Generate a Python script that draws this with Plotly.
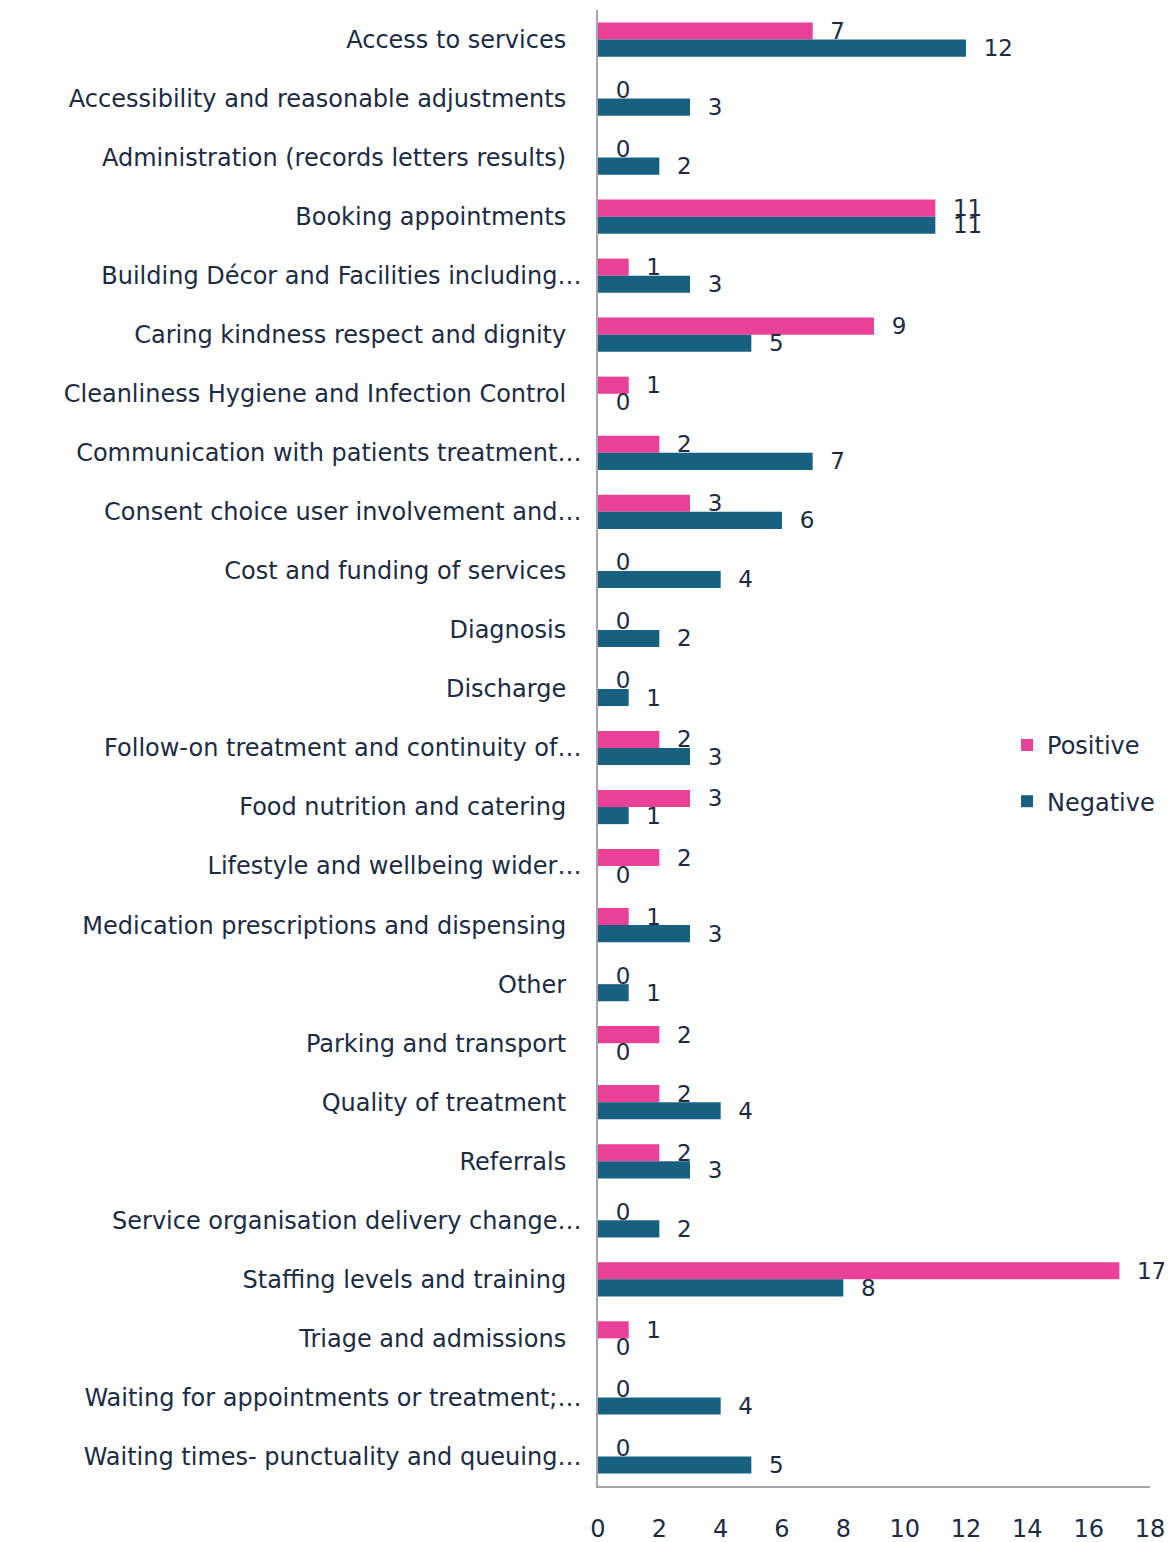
import plotly.graph_objects as go

categories = [
    "Access to services",
    "Accessibility and reasonable adjustments",
    "Administration (records letters results)",
    "Booking appointments",
    "Building Décor and Facilities including…",
    "Caring kindness respect and dignity",
    "Cleanliness Hygiene and Infection Control",
    "Communication with patients treatment…",
    "Consent choice user involvement and…",
    "Cost and funding of services",
    "Diagnosis",
    "Discharge",
    "Follow-on treatment and continuity of…",
    "Food nutrition and catering",
    "Lifestyle and wellbeing wider…",
    "Medication prescriptions and dispensing",
    "Other",
    "Parking and transport",
    "Quality of treatment",
    "Referrals",
    "Service organisation delivery change…",
    "Staffing levels and training",
    "Triage and admissions",
    "Waiting for appointments or treatment;…",
    "Waiting times- punctuality and queuing…",
]
positive = [7, 0, 0, 11, 1, 9, 1, 2, 3, 0, 0, 0, 2, 3, 2, 1, 0, 2, 2, 2, 0, 17, 1, 0, 0]
negative = [12, 3, 2, 11, 3, 5, 0, 7, 6, 4, 2, 1, 3, 1, 0, 3, 1, 0, 4, 3, 2, 8, 0, 4, 5]
x_ticks = [0, 2, 4, 6, 8, 10, 12, 14, 16, 18]

PINK = "#E84197"
TEAL = "#17607F"
TEXT = "#1B2B44"
FONT = "DejaVu Sans"
FS = 24
VFS = 23
pad = "\u00a0\u00a0"

tick_text = [c if c.endswith("…") else c + "\u00a0\u00a0" for c in categories]

fig = go.Figure()
fig.add_trace(go.Bar(
    name="Positive", y=categories, x=positive, orientation="h",
    marker=dict(color=PINK, line=dict(width=0)),
    text=[pad + str(v) for v in positive], textposition="outside",
    constraintext="none",
    textfont=dict(family=FONT, size=VFS, color=TEXT), cliponaxis=False,
    legendgroup="p",
))
fig.add_trace(go.Bar(
    name="Negative", y=categories, x=negative, orientation="h",
    marker=dict(color=TEAL, line=dict(width=0)),
    text=[pad + str(v) for v in negative], textposition="outside",
    constraintext="none",
    textfont=dict(family=FONT, size=VFS, color=TEXT), cliponaxis=False,
    legendgroup="n",
))

# page body adds an 8px offset, so the figure is 8px smaller and margins shifted
fig.update_layout(
    width=1164, height=1534,
    margin=dict(l=590, r=22, t=2, b=56),
    barmode="group", bargap=0.42, bargroupgap=0,
    plot_bgcolor="white", paper_bgcolor="white",
    font=dict(family=FONT, size=FS, color=TEXT),
    showlegend=True,
    legend=dict(
        x=0.741, xanchor="left", y=0.517, yanchor="top",
        traceorder="grouped", tracegroupgap=22,
        font=dict(family=FONT, size=FS, color=TEXT),
        bgcolor="rgba(0,0,0,0)", itemwidth=30,
    ),
)
fig.update_xaxes(
    range=[0, 18], tickvals=x_ticks, ticktext=[str(v) for v in x_ticks],
    showgrid=False, zeroline=False, showline=True, linecolor="#A6A6A6", linewidth=1.5,
    ticks="", ticklabelstandoff=20, automargin=False,
    tickfont=dict(family=FONT, size=FS, color=TEXT),
)
fig.update_yaxes(
    autorange="reversed", showgrid=False, zeroline=False,
    showline=True, linecolor="#A6A6A6", linewidth=1.5,
    tickvals=categories, ticktext=tick_text,
    ticks="", ticklabelstandoff=10, automargin=False,
    tickfont=dict(family=FONT, size=FS, color=TEXT),
)

fig.write_html("out.html")
